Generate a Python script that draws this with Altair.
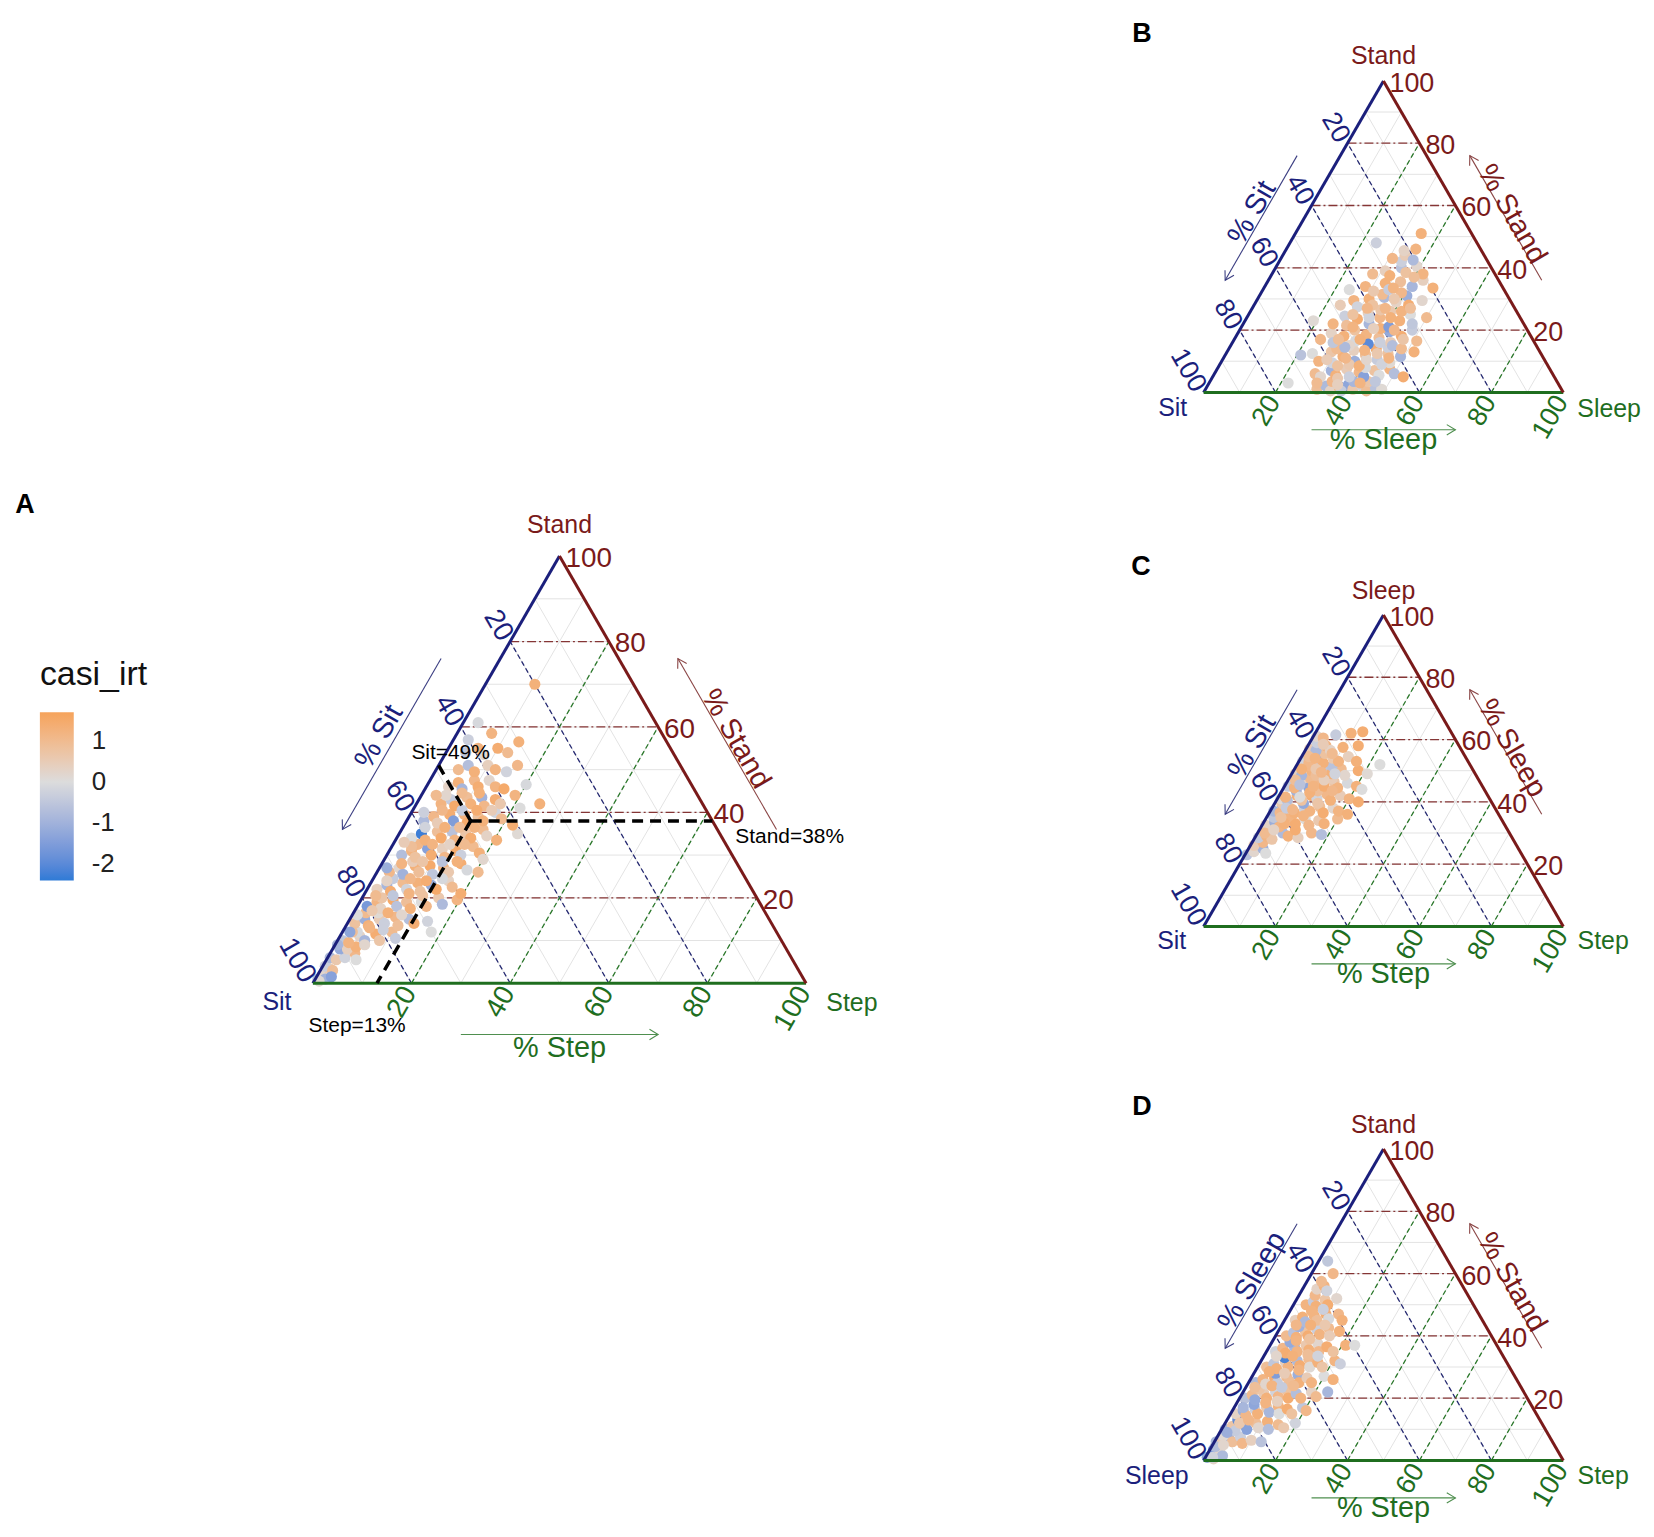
import math
import altair as alt
import pandas as pd

SQ = math.sqrt(3) / 2
FONT = "Liberation Sans"

# ---------------- data (percent values) ----------------
# Panel A: (Step %, Stand %, casi_irt); Sit = 100 - Step - Stand
A_points = [
    (0.5, 1, -0.6), (1, 2, 0.2), (2, 1, -1.0), (1.5, 3.5, 0.5), (0.5, 4, -0.3), (2.5, 3, 0.9), (3, 1.5, -1.4), (1, 0.5, 0.1),
    (0.5, 6, -0.8), (2, 5.5, 0.6), (3.5, 6, -0.2), (5, 7, 1.1), (1.5, 8, -1.2), (3, 8, 0.4), (6, 5.5, 0.0), (4.5, 8.5, 1.3),
    (1, 10, -0.5), (2.5, 9.5, 1.2), (4, 11, 0.3), (5.5, 10, -0.9), (7, 11.5, 1.4), (8.5, 10, 0.7), (3, 12, -0.1), (10, 12, 1.0),
    (6, 9, 0.2), (11.5, 10.5, -0.4), (18, 12, 0.0),
    (1.5, 14, 0.8), (3, 15, -1.1), (4.5, 13.5, 1.3), (6, 15, 0.5), (7.5, 14, -0.3), (9, 15.5, 1.1), (10.5, 13.5, 0.9),
    (12, 15, -0.7), (13.5, 14, 1.4), (5, 16.5, 0.1), (16, 14.5, -0.2), (2.5, 16.5, 1.0),
    (2, 18, -1.6), (3.5, 19, 1.2), (5, 17.5, 0.3), (6.5, 19.5, 1.5), (8, 18, -0.6), (9.5, 19, 0.9), (11, 17.5, 1.3),
    (12.5, 19, 0.0), (14, 18, 1.1), (15.5, 20, 0.6), (17, 18.5, -0.8), (19.5, 19.5, 1.2), (4, 20, 0.7),
    (2, 22, 0.4), (3.5, 23, -0.9), (5, 21.5, 1.4), (6.5, 23.5, 1.0), (8, 22, -0.2), (9.5, 23.5, 1.3), (11, 21.5, 0.8),
    (12.5, 23, -1.2), (14, 22, 1.5), (15.5, 24, 0.3), (17, 22.5, 1.0), (19.5, 21, 1.4), (4, 24.5, -0.4),
    (2.5, 26, 1.1), (4, 27, 0.2), (5.5, 25.5, -1.0), (7, 27.5, 1.3), (8.5, 26, 0.9), (10, 27.5, 1.5), (11.5, 25.5, -0.5),
    (13, 27, 1.2), (14.5, 26, 0.6), (16, 28, 1.4), (18, 26.5, -0.1), (20.5, 26, 1.0), (6, 28.5, 0.5),
    (3, 30, -0.7), (4.5, 31, 1.2), (6, 29.5, 0.8), (7.5, 31.5, -1.4), (9, 30, 1.4), (10.5, 31.5, 0.4), (12, 29.5, 1.1),
    (13.5, 31, 1.5), (15, 30, -0.3), (16.5, 32, 1.0), (18.5, 30.5, 1.3), (20, 29, 0.2), (5, 32.5, 1.1),
    (3, 34, 0.0), (4.5, 35, -2.3), (6, 33.5, 1.3), (7.5, 35.5, 0.9), (9, 34, 1.5), (10.5, 35.5, -0.6), (12, 33.5, 1.2),
    (13.5, 35, 0.7), (15, 34, 1.4), (16.5, 36, 1.0), (18, 34.5, 0.3), (20.5, 33.5, 1.3), (24, 35, 0.1),
    (3.5, 38, -0.8), (5, 39, 1.1), (6.5, 37.5, 0.5), (8, 39.5, 1.4), (9.5, 38, -1.5), (11, 39.5, 1.2), (12.5, 37.5, 1.5),
    (14, 39, 0.8), (15.5, 38, 1.3), (17, 40, -0.2), (19, 38.5, 1.0), (22, 37, 1.4),
    (5, 42, 1.2), (6.5, 43, -0.4), (8, 41.5, 1.5), (9.5, 43.5, 0.9), (11, 42, 1.3), (12.5, 43.5, -1.0), (14, 41.5, 1.1),
    (15.5, 43, 1.4), (17, 42, 0.6), (19, 44, 1.2), (25, 42, 1.3), (21.5, 41, 0.0),
    (4.5, 46, 0.3), (6, 47, 1.3), (7.5, 45.5, -0.9), (9, 47.5, 1.1), (10.5, 46, 1.4), (12, 47.5, 0.2), (14, 46, 1.2),
    (16, 45.5, 1.5), (20, 46.5, -0.1),
    (4.5, 50, 1.0), (6, 51, -0.7), (8, 49.5, 1.3), (10, 51, 0.4), (12, 50, 1.2), (14.5, 49.5, -0.2), (16, 51, 1.1),
    (4, 54, -0.5), (6, 55, 1.2), (8, 53.5, 0.1), (10, 55, 1.4), (12.5, 54, 1.0), (3, 57, -0.3), (13.5, 56.5, 1.3),
    (3, 61, -0.1), (10, 70, 1.3), (7, 58.5, 1.2),
    (2, 12, 0.9), (5, 13, 1.2), (8, 12.5, -0.3), (3.5, 17, 0.6), (7, 16.5, 1.3), (10, 16, 0.2), (2.5, 20.5, 1.0),
    (6, 20.5, -0.5), (9, 21, 1.2), (12, 20.5, 0.8), (3, 24, 0.3), (7.5, 24.5, 1.1), (11, 24, 1.4), (14, 24.5, -0.1),
    (4, 28, 1.2), (8, 28.5, 0.7), (12, 28.5, -0.6), (15, 28.5, 1.3), (4, 32, 0.9), (8, 32.5, 1.2), (11.5, 32.5, 0.3),
    (14.5, 32.5, 1.0), (4.5, 36.5, -0.2), (8.5, 36.5, 1.3), (11.5, 36.5, 0.9), (14.5, 36.5, 1.2), (6, 40.5, 1.1),
    (10, 40.5, -0.4), (13, 40.5, 1.4), (16, 40.5, 0.5), (8, 44.5, 1.0), (11.5, 44.5, 1.3), (5, 44, 0.2),
    (1.5, 12, -1.3), (0.5, 9, -0.9), (1, 16, 0.0), (1.5, 27, -1.1), (2, 33, 0.5), (2.5, 40, -0.3), (3, 44, 1.0),
]

# Panel B: (Sleep %, Stand %, casi_irt); Sit = rest
B_points = [
    (31, 1, 0.9), (33, 2, -0.8), (35, 0.5, 0.3), (37, 1.5, 1.2), (39, 2.5, -1.3), (41, 1, 0.6), (43, 2, -0.2), (45, 0.5, 0.9),
    (47, 1.5, -0.6), (49, 1, 0.1), (34, 3.5, 1.1), (40, 3.5, -0.9), (44, 3.5, 0.7), (38, 0.5, -0.4), (22, 3, 0.0),
    (28, 6, 1.0), (30, 5, 0.2), (32, 7, -1.0), (34, 5.5, 1.3), (36, 7.5, 0.5), (38, 5, -0.3), (40, 6.5, 1.1), (42, 5, -1.4),
    (44, 7, 0.8), (46, 5.5, 0.0), (48, 7.5, 1.2), (50, 6, -0.7), (53, 5, 1.4), (35, 4.5, 0.6), (41, 8, -0.1),
    (21, 12, -0.6), (24, 12.5, 0.0), (27, 10, 1.2), (29, 13, 0.7), (31, 9.5, -0.2), (33, 11.5, 1.3), (35, 13.5, 0.4),
    (37, 10, -1.1), (39, 12, 0.9), (41, 14, 1.4), (43, 10.5, -0.4), (45, 12.5, 0.8), (47, 9.5, 0.1), (49, 11.5, -0.9),
    (52, 13, 1.3), (30, 14, 1.0), (36, 9, 0.6), (44, 14.5, -0.3),
    (24, 17, 1.1), (26, 19, 0.3), (28, 16, -0.5), (30, 18, 1.3), (32, 20, 0.8), (34, 16.5, -0.1), (36, 18.5, 1.2),
    (38, 15.5, -2.0), (40, 17.5, 0.9), (42, 19.5, -1.2), (44, 16, 0.5), (46, 18, 1.4), (48, 20, -0.4), (51, 16.5, 1.0),
    (33, 15, 0.2), (39, 20.5, 1.3), (45, 15, -0.7),
    (19, 23, 0.1), (25, 22, 1.2), (27, 24.5, -0.3), (29, 21.5, 0.9), (31, 23.5, 1.4), (33, 25.5, 0.4), (35, 22, -0.9),
    (37, 24, 1.1), (39, 26, 0.6), (41, 21, -1.5), (43, 23, 1.3), (45, 25, 0.0), (47, 22, -0.5), (50, 24, 1.0),
    (36, 26.5, 0.7), (42, 26, 1.2),
    (24, 28, 0.5), (27, 29.5, 1.2), (29, 27.5, -0.2), (31, 30, 1.3), (33, 28, 0.8), (35, 30.5, -0.8), (37, 27, 1.1),
    (39, 29, 0.3), (41, 31, -1.1), (43, 28, 1.4), (46, 29.5, 0.2), (34, 31.5, 1.0),
    (24, 33, 0.0), (28, 34, 1.2), (31, 32.5, 0.6), (33, 35, 1.3), (35, 33, -0.4), (37, 35.5, 0.9), (39, 32, 1.1),
    (41, 34, -0.9), (43, 36, 0.4), (47, 33.5, 1.3),
    (28, 38, 1.0), (31, 39, 0.4), (33, 37.5, 1.3), (35, 40, -0.6), (37, 38.5, 0.8), (39, 40.5, 0.2), (42, 38, 1.2),
    (34, 42, -0.3), (31, 43, 1.1), (34, 44, 0.5), (37, 42.5, -0.8), (36, 46, 1.2), (33, 45.5, 0.3),
    (24, 48, -0.3), (35, 51, 1.3),
    (30, 3, 1.0), (36, 2.5, 0.4), (42, 3, 1.2), (46, 3.5, -0.5), (33, 8.5, 0.8), (39, 8.5, 1.3), (45, 9, -0.2),
    (29, 10.5, 0.5), (34, 11, 1.1), (40, 10.5, 0.2), (46, 11, 1.2), (32, 14.5, -0.8), (38, 13.5, 1.2), (42, 12.5, 0.6),
    (48, 14, 1.0), (29, 17, 0.9), (35, 17, 1.3), (41, 16, -0.3), (47, 17, 0.7), (31, 21, 1.2), (37, 20.5, 0.4),
    (43, 20, 1.1), (29, 25, 0.8), (34, 24, -0.2), (40, 24, 1.3), (44, 27, 0.9), (32, 27, 1.1), (38, 30, 0.6),
    (36, 33.5, 1.2), (40, 37, 0.9),
]

# Panel C: (Step %, Sleep %, casi_irt); Sit = rest
C_points = [
    (0.5, 23, -0.6), (2, 24, 0.2), (4, 25, -1.0), (1, 26, 0.5), (5.5, 23.5, 0.0), (3, 27, 1.1),
    (1, 28.5, -0.4), (3, 29, 1.2), (5, 28, 0.7), (7, 30, -0.8), (9, 29, 1.3), (12, 28.5, 0.4), (15, 30, 1.1),
    (18, 29.5, -0.7), (2, 31, 0.9), (10, 31, 1.4),
    (1, 32.5, 0.3), (3, 33.5, -1.1), (5, 32, 1.2), (7, 34, 0.8), (9, 33, 1.4), (11, 34.5, 0.0), (13, 32.5, 1.1),
    (15, 34, 0.6), (17, 33, 1.3), (20, 34.5, 1.0), (2, 35, -0.5), (6, 35.5, 1.2),
    (1, 37, -0.9), (3, 36.5, 1.1), (5, 38, 0.4), (7, 36.5, 1.3), (9, 38, -0.3), (11, 37, 1.2), (13, 38.5, 0.9),
    (15, 36.5, 1.4), (17, 38, 0.2), (19, 37, 1.2), (22, 36, 1.3), (2, 39.5, 0.6), (8, 39.5, -1.2),
    (1, 41, 0.1), (3, 40.5, -0.7), (5, 42, 1.3), (7, 40.5, 0.8), (9, 42, 1.4), (11, 41, -0.2), (13, 42.5, 1.1),
    (15, 40.5, 1.3), (17, 42, 0.5), (20, 41, 1.2), (23, 40, 1.4), (4, 43.5, -1.0), (10, 43.5, 0.9),
    (1, 45, -0.4), (3, 44.5, 1.2), (5, 46, 0.3), (7, 44.5, -1.3), (9, 46, 1.1), (11, 45, 1.4), (13, 46.5, 0.7),
    (15, 44.5, 1.2), (17, 46, -0.1), (20, 45, 1.3), (22, 44, 0.0), (6, 47.5, 1.0), (12, 47.5, 0.5),
    (1, 49, 0.4), (3, 48.5, -0.9), (5, 50, 1.2), (7, 48.5, 0.9), (9, 50, -0.5), (11, 49, 1.3), (13, 50.5, 1.0),
    (15, 48.5, 0.2), (18, 50, 1.4), (21, 49, 0.1), (4, 51.5, 1.1), (10, 51.5, -0.6),
    (1, 53, -0.2), (3, 52.5, 1.1), (5, 54, -1.1), (7, 52.5, 1.3), (9, 54, 0.6), (11, 53, 1.2), (13, 54.5, 0.4),
    (16, 53, 1.3), (23, 52, 0.0), (6, 55.5, 0.8),
    (1, 57, 0.5), (3, 56.5, -0.8), (5, 58, 1.2), (7, 56.5, 0.3), (10, 57.5, 1.3), (14, 58, 1.4), (2, 59, -0.3),
    (1, 61, 0.2), (3, 60.5, 1.1), (6, 61.5, -0.4), (10, 62, 1.3), (13, 62.5, 1.4),
    (2, 30, 1.0), (4, 31, 0.3), (6, 33, 1.3), (4, 35, 0.8), (10, 35.5, 1.2), (4, 38, -0.4), (6, 37.5, 1.1),
    (12, 39.5, 0.7), (2, 41.5, 1.2), (6, 41.5, 0.0), (8, 43, 1.3), (14, 43.5, 1.1), (2, 47, 0.9), (4, 45.5, -0.6),
    (8, 45, 1.2), (10, 47, 0.4), (2, 50.5, 1.3), (6, 50.5, 0.6), (8, 49.5, 1.1), (12, 49, -0.2), (2, 54.5, 0.9),
    (4, 54, 1.2), (8, 55.5, 1.0), (4, 58.5, 0.5),
]

# Panel D: (Step %, Stand %, casi_irt); Sleep = rest
D_points = [
    (0.5, 1, -1.2), (1.5, 2, -0.5), (2.5, 0.5, 0.3), (1, 3.5, -1.6), (3, 3, 0.2), (4.5, 1.5, -0.8), (2, 1, -0.2),
    (0.5, 6, -0.9), (2, 5.5, 0.5), (3.5, 7, -1.3), (5, 6, 0.9), (6.5, 7.5, -0.3), (8, 5.5, 1.1), (10, 6.5, 0.4),
    (13, 6, -0.6), (1.5, 8, 0.1),
    (1, 10, -1.0), (2.5, 11, 0.7), (4, 9.5, -0.4), (5.5, 11.5, 1.2), (7, 10, -1.4), (8.5, 12, 0.9), (10, 10.5, 0.2),
    (11.5, 12.5, 1.3), (13, 10, -0.7), (15, 11.5, 1.0), (17, 10.5, 0.6), (19.5, 12, -0.2), (3, 13, -1.9),
    (1.5, 15, 0.3), (3, 16, -1.1), (4.5, 14.5, 1.1), (6, 16.5, -0.3), (7.5, 15, 1.3), (9, 17, 0.6), (10.5, 15.5, -0.9),
    (12, 17.5, 1.2), (13.5, 15, 0.0), (15, 16.5, 1.4), (17, 15, 0.8), (19, 17, -0.5), (20.5, 16, 1.1), (5, 18, -1.3),
    (1.5, 20, -0.6), (3, 21, 1.0), (4.5, 19.5, -1.2), (6, 21.5, 0.5), (7.5, 20, 1.3), (9, 22, -0.2), (10.5, 20.5, 1.1),
    (12, 22.5, 0.8), (13.5, 20, 1.4), (15, 21.5, -0.7), (17, 20, 1.2), (19, 22, 0.3), (21, 20.5, 1.0), (23.5, 22, -0.9),
    (4, 23, 0.7),
    (2, 25, -0.8), (3.5, 26, 1.2), (5, 24.5, 0.2), (6.5, 26.5, 1.4), (8, 25, -0.4), (9.5, 27, 1.1), (11, 25.5, 0.9),
    (12.5, 27.5, -1.1), (14, 25, 1.3), (15.5, 26.5, 0.5), (17.5, 25, 1.2), (20, 27, 0.0), (23, 26, 1.3), (6, 28, -1.5),
    (2.5, 30, 0.9), (4, 31, -0.5), (5.5, 29.5, 1.3), (7, 31.5, 0.4), (8.5, 30, 1.2), (10, 32, -0.8), (11.5, 30.5, 1.4),
    (13, 32.5, 1.0), (14.5, 30, 0.1), (16, 31.5, 1.3), (18, 30, 0.7), (20.5, 32, 1.2), (22.5, 31, -0.3), (6, 33, -2.2),
    (2.5, 35, -0.2), (4, 36, 1.1), (5.5, 34.5, 1.4), (7, 36.5, -0.9), (8.5, 35, 1.2), (10, 37, 0.6), (11.5, 35.5, 1.3),
    (13, 37.5, 0.2), (14.5, 35, 1.1), (16, 36.5, 1.4), (18.5, 35, 0.8), (21, 37, 1.3), (23.5, 37, 0.0), (5, 38, -1.2),
    (3, 40, 1.0), (4.5, 41, -0.6), (6, 39.5, 1.3), (7.5, 41.5, 0.8), (9, 40, 1.4), (10.5, 42, -0.3), (12, 40.5, 1.2),
    (13.5, 42.5, 1.0), (15, 40, 0.5), (17, 41.5, 1.3), (5, 43, -1.0),
    (3, 45, 0.4), (4.5, 46, 1.3), (6, 44.5, -0.8), (7.5, 46.5, 1.2), (9, 45, 0.9), (10.5, 47, 1.4), (12, 45.5, -0.1),
    (14, 47, 1.1), (16, 45, 1.3),
    (3.5, 50, 1.2), (5, 51, -0.4), (6.5, 49.5, 1.3), (8, 51.5, 0.7), (9.5, 50, 1.4), (11, 52, 0.2), (4.5, 53, 1.1),
    (4, 55, 0.3), (5.5, 56, 1.2), (7, 54.5, -0.2), (4, 57.5, 1.0), (2.5, 64, -0.5), (6, 60, 1.1),
    (1, 4.5, -0.7), (3, 5, 0.2), (2, 9, -1.1), (4, 12, 0.6), (6, 13, 1.1), (2.5, 17, -0.9), (8, 18.5, 1.2),
    (11, 19, 0.4), (2.5, 23.5, 0.9), (7, 24, 1.2), (10, 23.5, -0.4), (13, 24, 1.0), (4, 28.5, 1.3), (8.5, 28, 0.5),
    (12, 29, 1.2), (3.5, 33.5, 0.2), (8, 33.5, 1.3), (12, 34, 0.9), (15, 33.5, -0.2), (6.5, 38.5, 1.2), (10, 39, 0.8),
    (4, 43.5, 1.1), (8, 43.5, 1.3), (12, 43.5, 0.6), (6, 48, 1.2), (9, 48.5, -0.3),
]

A_mean = {"Sit": 49, "Step": 13, "Stand": 38}
tick_values = [20, 40, 60, 80, 100]
major_grid = [20, 40, 60, 80]
minor_grid = [10, 20, 30, 40, 50, 60, 70, 80, 90]
legend_values = [1, 0, -1, -2]
casi_domain = [-2.415, 0, 1.707]

# ---------------- styles ----------------
NAVY = "#1b1f7c"
GREEN = "#1f6e1f"
DRED = "#7a1a1a"
AX_COL = {"L": NAVY, "R": GREEN, "T": DRED}
GRID_COL = {"L": "#262a72", "R": "#2a782a", "T": "#853535"}
GRID_DASH = {"L": [5, 3], "R": [5, 3], "T": [9, 3, 2, 3]}
ARROW_COL = {"L": "#3b3e82", "R": "#4f8f4f", "T": "#8a4545"}
NORMAL = {"L": (-SQ, 0.5), "R": (0.0, -1.0), "T": (SQ, 0.5)}
TICK_STYLE = {
    "L": dict(angle=60, align="right", dx=-4.3, dy=2.5),
    "R": dict(angle=300, align="right", dx=-5.5, dy=1.5),
    "T": dict(angle=0, align="left", dx=6, dy=3),
}
TITLE_ANGLE = {"L": 300, "R": 0, "T": 60}
HEAD_ANGLE = {"L": 120, "R": 0, "T": 240}
ARROW_D = 0.104
TITLE_D = {"L": 0.134, "R": 0.132, "T": 0.125}
ARROW_SPAN = (30, 70)
CHEVRON = "M -1 -0.6 L 0 0 L -1 0.6"

COLOR_SCALE = alt.Scale(domain=casi_domain, range=["#2e7ad6", "#dcdcdc", "#f6a35b"], interpolate="lab")
LEGEND = alt.Legend(
    title="casi_irt", orient="none", legendX=27, legendY=645, direction="vertical",
    gradientLength=169, gradientThickness=34, gradientStrokeWidth=0, values=legend_values,
    labelExpr="'' + datum.value", titleFontSize=34, titleFontWeight="normal", titleColor="#111111",
    titleFont=FONT, labelFont=FONT, labelFontSize=26, labelColor="#222222", labelOffset=18,
    titlePadding=20, padding=0,
)


def edge_rt(axis, v):
    """(right component, top component) of the point on an axis edge where that axis equals v."""
    if axis == "L":
        return (0, 100 - v)
    if axis == "R":
        return (v, 0)
    return (100 - v, v)


def grid_rt(axis, v):
    if axis == "T":
        return (0, v, 100 - v, v)
    if axis == "L":
        return (100 - v, 0, 0, 100 - v)
    return (v, 0, v, 100 - v)


def xy_expr(r, t, off=(0.0, 0.0)):
    return (f"({r} + {t} / 2) / 100 + ({off[0]})", f"{t} * {SQ} / 100 + ({off[1]})")


def seg_calc(off=(0.0, 0.0)):
    x1, y1 = xy_expr("datum.r1", "datum.t1", off)
    x2, y2 = xy_expr("datum.r2", "datum.t2", off)
    return dict(x1=x1, y1=y1, x2=x2, y2=y2)


def pt_calc(off=(0.0, 0.0)):
    x, y = xy_expr("datum.r", "datum.t", off)
    return dict(x=x, y=y)


def make_panel(p):
    ppu = p["ppu"]
    xs = alt.Scale(domain=[-p["left"] / ppu, (p["w"] - p["left"]) / ppu], nice=False, zero=False)
    ys = alt.Scale(domain=[-(p["h"] - p["base"]) / ppu, p["base"] / ppu], nice=False, zero=False)

    def pos(xf="x", yf="y"):
        return dict(x=alt.X(xf, type="quantitative", scale=xs, axis=None),
                    y=alt.Y(yf, type="quantitative", scale=ys, axis=None))

    def seg():
        e = pos("x1", "y1")
        e["x2"] = alt.X2("x2")
        e["y2"] = alt.Y2("y2")
        return e

    cols = ["r1", "t1", "r2", "t2"]
    layers = []

    # minor grid
    mg = pd.DataFrame([grid_rt(a, v) for a in "LRT" for v in minor_grid], columns=cols)
    layers.append(alt.Chart(mg).mark_rule(color="#e3e3e3", strokeWidth=1)
                  .encode(**seg()).transform_calculate(**seg_calc()))
    # major grid
    for a in "LRT":
        df = pd.DataFrame([grid_rt(a, v) for v in major_grid], columns=cols)
        layers.append(alt.Chart(df).mark_rule(color=GRID_COL[a], strokeWidth=1.3, strokeDash=GRID_DASH[a])
                      .encode(**seg()).transform_calculate(**seg_calc()))
    # points
    pts = pd.DataFrame(p["pts"], columns=["r", "t", "casi"])
    layers.append(alt.Chart(pts).mark_circle(size=125, opacity=1)
                  .encode(**pos(), color=alt.Color("casi", type="quantitative", scale=COLOR_SCALE, legend=LEGEND))
                  .transform_calculate(**pt_calc()))
    # triangle edges
    for a in "LRT":
        r1, t1 = edge_rt(a, 0)
        r2, t2 = edge_rt(a, 100)
        df = pd.DataFrame([(r1, t1, r2, t2)], columns=cols)
        layers.append(alt.Chart(df).mark_rule(color=AX_COL[a], strokeWidth=3)
                      .encode(**seg()).transform_calculate(**seg_calc()))
    # tick labels
    for a in "LRT":
        df = pd.DataFrame([(*edge_rt(a, v), str(v)) for v in tick_values], columns=["r", "t", "lab"])
        layers.append(alt.Chart(df).mark_text(baseline="middle", fontSize=p["fs_tick"], color=AX_COL[a],
                                              font=FONT, **TICK_STYLE[a])
                      .encode(**pos(), text="lab:N").transform_calculate(**pt_calc()))
    # axis arrows and titles
    names = {"L": p["L"], "R": p["R"], "T": p["T"]}
    for a in "LRT":
        off = (NORMAL[a][0] * ARROW_D, NORMAL[a][1] * ARROW_D)
        df = pd.DataFrame([(*edge_rt(a, ARROW_SPAN[0]), *edge_rt(a, ARROW_SPAN[1]))], columns=cols)
        layers.append(alt.Chart(df).mark_rule(color=ARROW_COL[a], strokeWidth=1.1)
                      .encode(**seg()).transform_calculate(**seg_calc(off)))
        hd = pd.DataFrame([edge_rt(a, ARROW_SPAN[1])], columns=["r", "t"])
        layers.append(alt.Chart(hd).mark_point(shape=CHEVRON, filled=False, size=300, strokeWidth=1.1,
                                               color=ARROW_COL[a], angle=HEAD_ANGLE[a], opacity=1)
                      .encode(**pos()).transform_calculate(**pt_calc(off)))
        toff = (NORMAL[a][0] * TITLE_D[a], NORMAL[a][1] * TITLE_D[a])
        td = pd.DataFrame([(*edge_rt(a, 50), "% " + names[a])], columns=["r", "t", "lab"])
        layers.append(alt.Chart(td).mark_text(align="center", baseline="middle", angle=TITLE_ANGLE[a],
                                              fontSize=p["fs_title"], color=AX_COL[a], font=FONT)
                      .encode(**pos(), text="lab:N").transform_calculate(**pt_calc(toff)))
    # vertex labels
    vertex = {"L": (0, 0), "R": (100, 0), "T": (0, 100)}
    for a in "LRT":
        dx, dy = p["vlab"][a]
        vd = pd.DataFrame([(*vertex[a], names[a])], columns=["r", "t", "lab"])
        layers.append(alt.Chart(vd).mark_text(align="center", baseline="middle", dx=dx, dy=dy,
                                              fontSize=p["fs_vertex"], color=AX_COL[a], font=FONT)
                      .encode(**pos(), text="lab:N").transform_calculate(**pt_calc()))
    # mean annotation (panel A)
    if p.get("mean"):
        m = p["mean"]
        L, R, T = m[p["L"]], m[p["R"]], m[p["T"]]
        ends = [
            (R, T, R + L, T, f"{p['T']}={T}%", "left", 23, 16),
            (R, T, 0, R + T, f"{p['L']}={L}%", "center", 12, -12),
            (R, T, R, 0, f"{p['R']}={R}%", "center", -20, 43),
        ]
        md = pd.DataFrame([e[:4] for e in ends], columns=cols)
        layers.append(alt.Chart(md).mark_rule(color="black", strokeWidth=3.5, strokeDash=[11, 7])
                      .encode(**seg()).transform_calculate(**seg_calc()))
        for e in ends:
            ld = pd.DataFrame([(e[2], e[3], e[4])], columns=["r", "t", "lab"])
            layers.append(alt.Chart(ld).mark_text(align=e[5], baseline="middle", dx=e[6], dy=e[7],
                                                  fontSize=21, color="black", font=FONT)
                          .encode(**pos(), text="lab:N").transform_calculate(**pt_calc()))
    # panel letter
    lx, ly = p["letter"]
    layers.append(alt.Chart(pd.DataFrame({"lab": [p["name"]]}))
                  .mark_text(align="center", baseline="middle", fontSize=27, fontWeight="bold",
                             color="black", font=FONT)
                  .encode(x=alt.value(lx), y=alt.value(ly), text="lab:N"))

    return alt.layer(*layers).properties(width=p["w"], height=p["h"])


panel_A = dict(name="A", L="Sit", R="Step", T="Stand", pts=A_points, w=880, h=1500, left=301, base=971,
               ppu=495, fs_tick=28, fs_title=29, fs_vertex=25,
               vlab={"L": (-36, 19), "R": (46, 20), "T": (0, -31)}, letter=(12, 491), mean=A_mean)
panel_B = dict(name="B", L="Sit", R="Sleep", T="Stand", pts=B_points, w=720, h=428, left=295, base=378,
               ppu=361, fs_tick=27, fs_title=29, fs_vertex=25,
               vlab={"L": (-31, 16), "R": (46, 17), "T": (0, -25)}, letter=(233, 18))
panel_C = dict(name="C", L="Sit", R="Step", T="Sleep", pts=C_points, w=720, h=428, left=295, base=378,
               ppu=361, fs_tick=27, fs_title=29, fs_vertex=25,
               vlab={"L": (-32, 15), "R": (40, 15), "T": (0, -24)}, letter=(232, 17))
panel_D = dict(name="D", L="Sleep", R="Step", T="Stand", pts=D_points, w=720, h=428, left=295, base=378,
               ppu=361, fs_tick=27, fs_title=29, fs_vertex=25,
               vlab={"L": (-47, 16), "R": (40, 16), "T": (0, -24)}, letter=(233, 23))

right = alt.vconcat(make_panel(panel_B), make_panel(panel_C), make_panel(panel_D), spacing=108, bounds="flush")
chart = (
    alt.hconcat(make_panel(panel_A), right, spacing=20, bounds="flush")
    .configure(font=FONT, background="white")
    .configure_view(stroke="transparent", strokeWidth=0)
)

chart.save("out.html", embed_options={"renderer": "svg", "actions": False})
